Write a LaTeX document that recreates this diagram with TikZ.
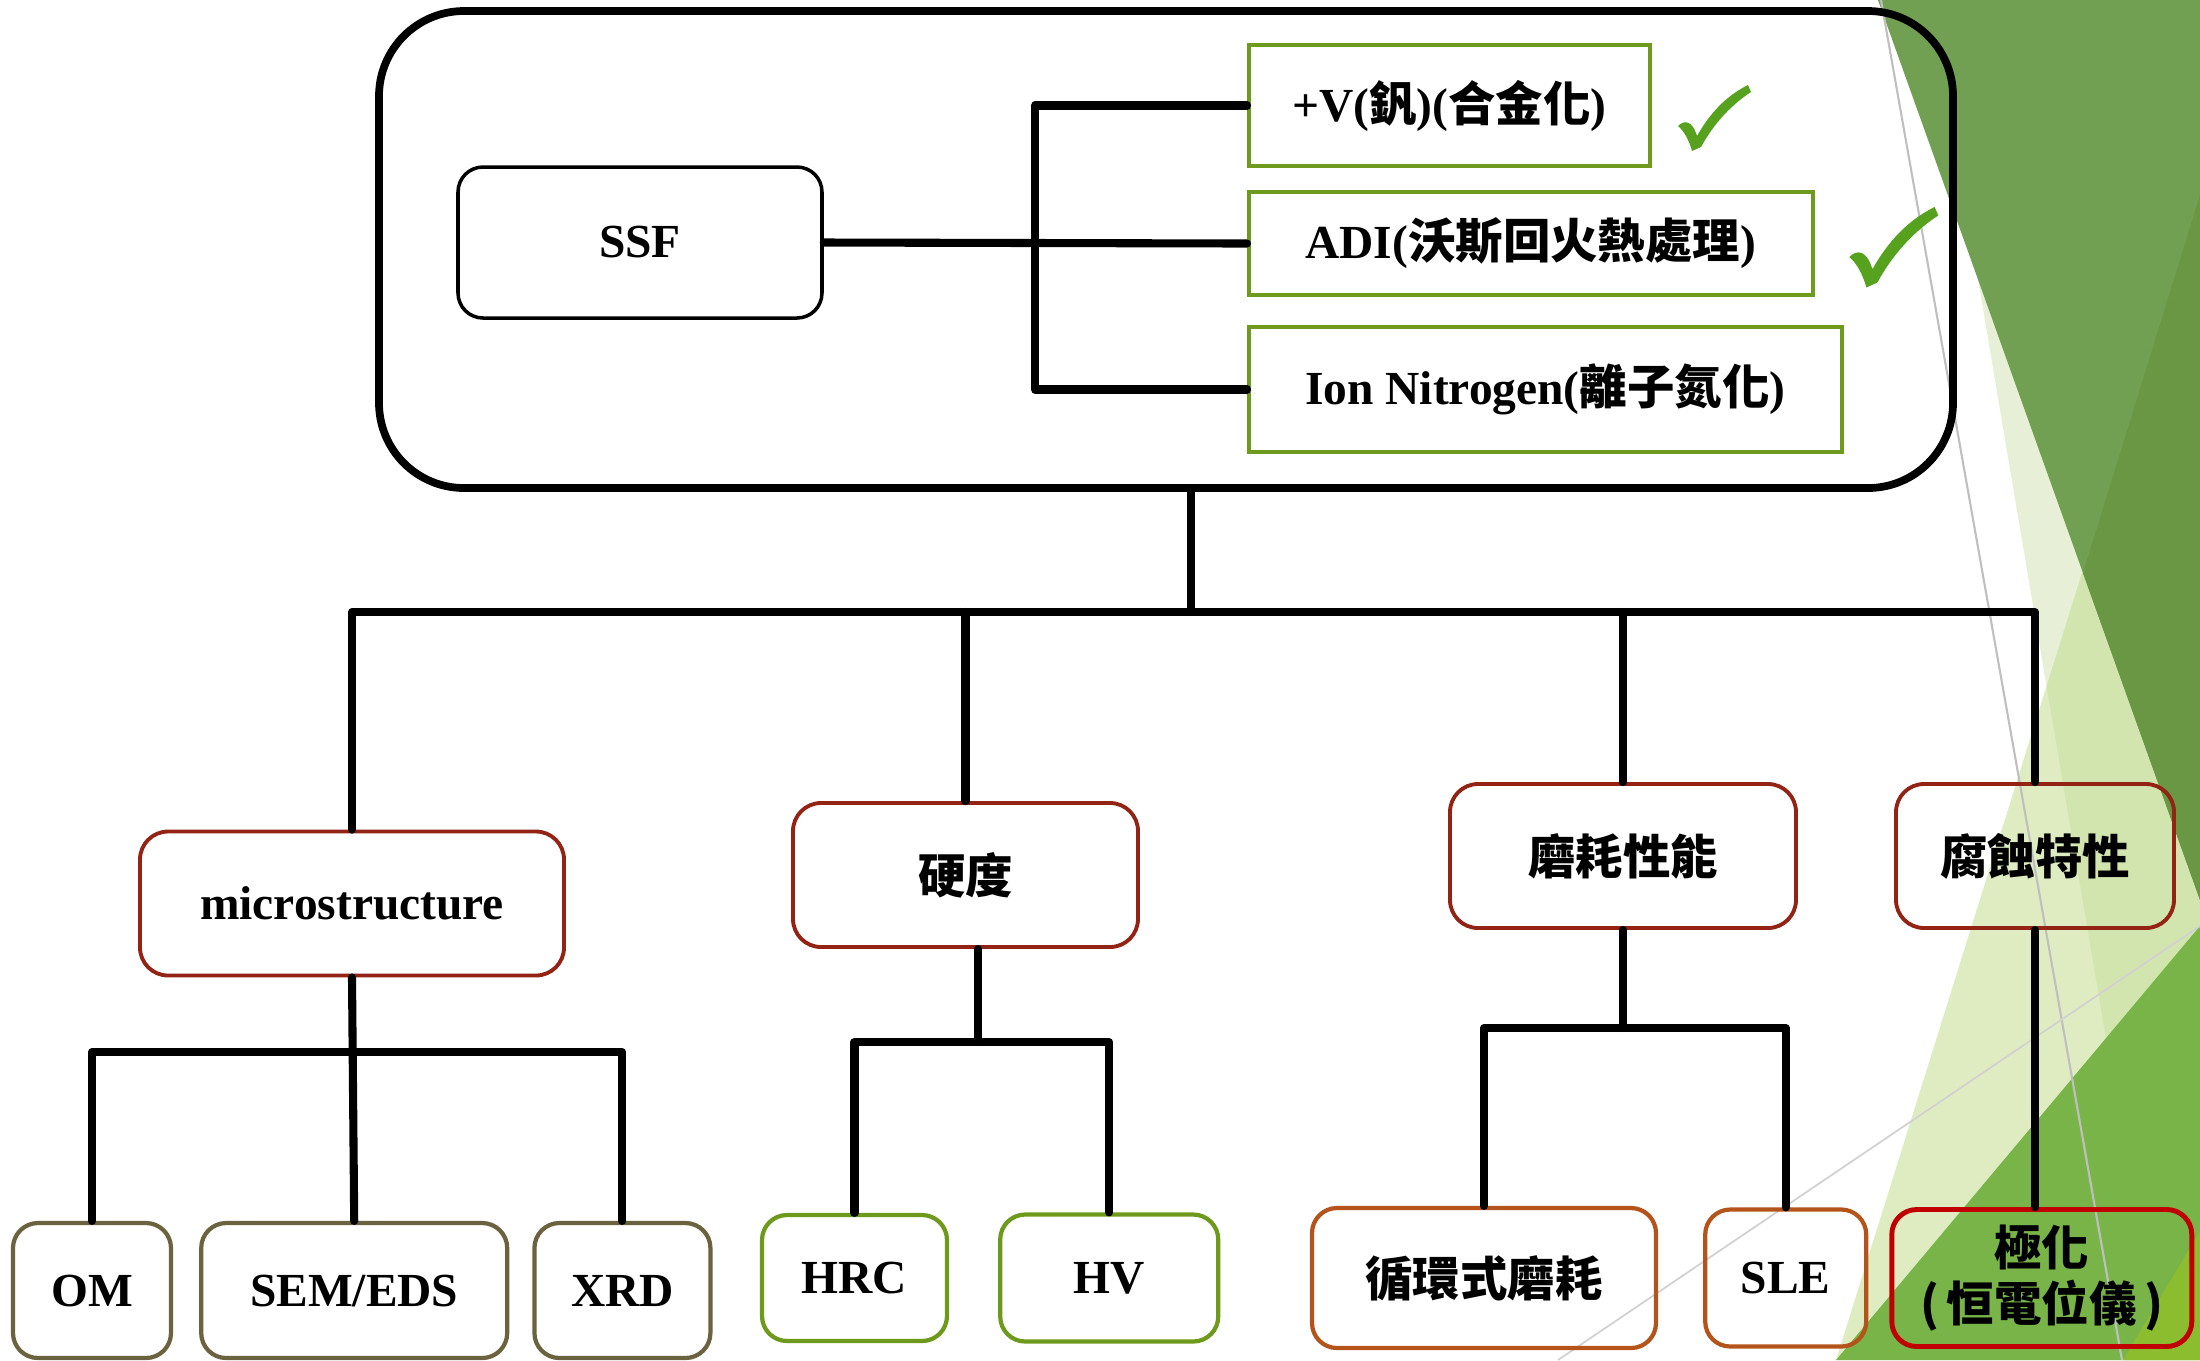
\documentclass[tikz,border=0pt]{standalone}
\usepackage{fontspec}
\setmainfont{Liberation Serif}
\newfontfamily\cjk{Noto Sans CJK TC}
\usepackage{xcolor}
\usepackage{tikz}
\usetikzlibrary{positioning}

\definecolor{optgreen}{HTML}{6E9A1E}
\definecolor{tickgreen}{HTML}{56A21F}
\definecolor{catred}{HTML}{922315}
\definecolor{leafolive}{HTML}{6B6340}
\definecolor{leafgreen}{HTML}{6E9A1C}
\definecolor{leaforange}{HTML}{B4541A}
\definecolor{leafred}{HTML}{C00000}
\definecolor{facetpale}{HTML}{E7F0D6}
\definecolor{facetlight}{HTML}{C4DD90}
\definecolor{facetdark}{HTML}{72A053}
\definecolor{facetdeep}{HTML}{6A9744}
\definecolor{facetgreen}{HTML}{78B447}
\definecolor{facetlime}{HTML}{8CBD2E}

\newcommand{\zh}[1]{{\cjk #1}}

\begin{document}
\begin{tikzpicture}[x=0.1mm, y=-0.1mm,
lbl/.style={font=\bfseries\fontsize{13.5}{16}\selectfont, align=center},
bigframe/.style={draw, line width=2.2pt, rounded corners=8.5mm, minimum width=157.4mm, minimum height=47.7mm},
srcbox/.style={lbl, draw, line width=1pt, rounded corners=2.5mm, minimum width=36.4mm, minimum height=15.1mm},
optbox/.style={lbl, draw=optgreen, line width=1pt, anchor=west},
catbox/.style={lbl, draw=catred, line width=1.1pt, rounded corners=2.8mm, minimum height=14.4mm},
leafbox/.style={lbl, line width=1.2pt, rounded corners=2.5mm},
link/.style={line width=2.3pt, line cap=round, line join=round},
tick/.style={fill=tickgreen}
]
\useasboundingbox (0,0) rectangle (2200,1360);

% background facets
\fill[facetpale] (1931,0) -- (2200,0) -- (2200,1360) -- (2160,1360) -- cycle;
\fill[facetlight, opacity=0.55] (2200,195) -- (1836,1360) -- (2200,1360) -- cycle;
\fill[facetdark] (1878,0) -- (2200,0) -- (2200,900) -- cycle;
\fill[facetdeep] (2200,195) -- (2083,573) -- (2200,900) -- cycle;
\fill[facetgreen] (2200,926) -- (1836,1360) -- (2200,1360) -- cycle;
\fill[facetlime] (2200,1231) -- (2123,1360) -- (2200,1360) -- cycle;
\draw[black!25, line width=0.6pt] (1881,0) -- (2122,1360);
\draw[black!18, line width=0.5pt] (1558,1360) -- (2200,926);

% top block
\node[bigframe] (frame) at (1166,249.5) {};
\node[srcbox] (ssf) at (640,242.5) {SSF};
\node[optbox, minimum width=40.1mm, minimum height=12.1mm] (optV) at (1247,105.5) {+V(\zh{釩})(\zh{合金化})};
\node[optbox, minimum width=56.4mm, minimum height=10.3mm] (optADI) at (1247,243.5) {ADI(\zh{沃斯回火熱處理})};
\node[optbox, minimum width=59.3mm, minimum height=12.5mm] (optIon) at (1247,389.5) {Ion Nitrogen(\zh{離子氮化})};

% check marks
\begin{scope}[shift={(1695,149)}]
\fill[tick] (-17,-23) .. controls (-10,-30) and (-3,-27) .. (1,-16) -- (2,-13)
  .. controls (15,-36) and (31,-53) .. (53,-64) -- (56,-57)
  .. controls (33,-42) and (17,-22) .. (6,-2) -- (-3,2)
  .. controls (-6,-9) and (-11,-18) .. cycle;
\end{scope}
\begin{scope}[shift={(1870,285)}, scale=1.22]
\fill[tick] (-17,-23) .. controls (-10,-30) and (-3,-27) .. (1,-16) -- (2,-13)
  .. controls (15,-36) and (31,-53) .. (53,-64) -- (56,-57)
  .. controls (33,-42) and (17,-22) .. (6,-2) -- (-3,2)
  .. controls (-6,-9) and (-11,-18) .. cycle;
\end{scope}

\coordinate (vbus) at (1035,243);
\draw[link] (ssf.east) -- (optADI.west);
\draw[link] (optV.west) -| (vbus) |- (optIon.west);

% second level
\node[catbox, minimum width=42.4mm] (micro) at (352,903.5) {microstructure};
\node[catbox, minimum width=34.5mm] (hard) at (965.5,875) {\zh{硬度}};
\node[catbox, minimum width=34.6mm] (wear) at (1623,856) {\zh{磨耗性能}};
\node[catbox, minimum width=27.8mm] (corr) at (2035,856) {\zh{腐蝕特性}};

\coordinate (trunk) at (1191,612);
\draw[link] (frame.south -| trunk) -- (trunk);
\draw[link] (micro.north) |- (trunk) -| (corr.north);
\draw[link] (hard.north) -- (hard.north |- trunk);
\draw[link] (wear.north) -- (wear.north |- trunk);

% leaves
\node[leafbox, draw=leafolive, minimum width=15.8mm, minimum height=13.5mm] (om) at (92,1290.5) {OM};
\node[leafbox, draw=leafolive, minimum width=30.6mm, minimum height=13.5mm, right=2.6mm of om] (sem) {SEM/EDS};
\node[leafbox, draw=leafolive, minimum width=17.6mm, minimum height=13.5mm, right=2.3mm of sem] (xrd) {XRD};
\node[leafbox, draw=leafgreen, minimum width=18.5mm, minimum height=12.6mm] (hrc) at (854.5,1278) {HRC};
\node[leafbox, draw=leafgreen, minimum width=21.8mm, minimum height=12.7mm, right=4.9mm of hrc] (hv) {HV};
\node[leafbox, draw=leaforange, minimum width=34.4mm, minimum height=14mm] (cyc) at (1484,1278) {\zh{循環式磨耗}};
\node[leafbox, draw=leaforange, minimum width=16.1mm, minimum height=13.7mm, right=4.5mm of cyc] (sle) {SLE};
\node[leafbox, draw=leafred, line width=1.4pt, minimum width=30mm, minimum height=13.7mm, right=2.1mm of sle] (pol) {\zh{極化}\\\zh{(\,恒電位儀\,)}};

\coordinate (mbus) at (352,1052);
\coordinate (hbus) at (978,1042);
\coordinate (wbus) at (1623,1028);
\draw[link] (om.north) |- (mbus) -| (xrd.north);
\draw[link] (micro.south) -- (sem.north);
\draw[link] (hard.south -| hbus) -- (hbus);
\draw[link] (hrc.north) |- (hbus) -| (hv.north);
\draw[link] (wear.south) -- (wbus);
\draw[link] (cyc.north) |- (wbus) -| (sle.north);
\draw[link] (corr.south) -- (corr.south |- pol.north);
\end{tikzpicture}
\end{document}
